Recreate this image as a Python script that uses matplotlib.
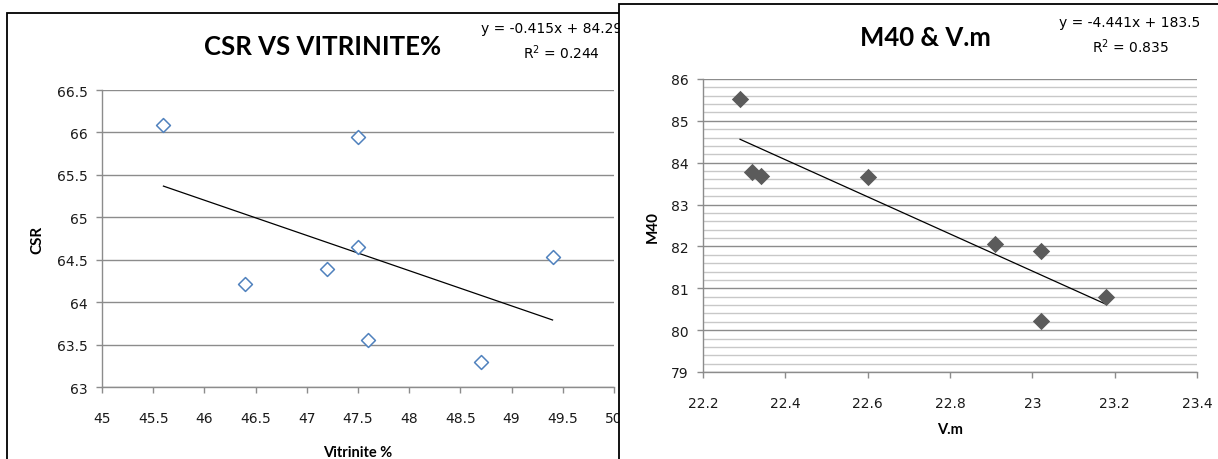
import matplotlib.pyplot as plt
import numpy as np
from matplotlib.patches import Rectangle
from matplotlib.ticker import MultipleLocator

# Data
vit = [45.6, 47.5, 47.5, 47.2, 46.4, 49.4, 47.6, 48.7]
csr = [66.09, 65.95, 64.65, 64.39, 64.21, 64.53, 63.55, 63.30]
csr_eq = "y = -0.415x + 84.29"
csr_r2 = "R$^2$ = 0.244"

vm = [22.29, 22.32, 22.34, 22.60, 22.91, 23.02, 23.02, 23.18]
m40 = [85.53, 83.78, 83.68, 83.65, 82.05, 81.88, 80.21, 80.80]
m40_eq = "y = -4.441x + 183.5"
m40_r2 = "R$^2$ = 0.835"

W, H = 1218, 460
tick_font = "Liberation Sans Narrow"
title_font = "Lato"
grid_c = "#8c8c8c"


def fx(x):
    return x / W


def fy(y):
    return 1 - y / H


def style_axes(ax):
    for s in ["top", "right"]:
        ax.spines[s].set_visible(False)
    for s in ["left", "bottom"]:
        ax.spines[s].set_color(grid_c)
        ax.spines[s].set_linewidth(1.0)
    ax.tick_params(which="major", direction="out", length=4.5, width=1.0,
                   color=grid_c, labelsize=10, labelcolor="#1a1a1a")
    ax.tick_params(axis="x", pad=13)
    ax.tick_params(axis="y", pad=6)
    for lab in ax.get_xticklabels() + ax.get_yticklabels():
        lab.set_fontfamily(tick_font)
    ax.set_facecolor("none")


fig = plt.figure(figsize=(W / 100, H / 100), dpi=100)

# - Left chart frame
fig.patches.append(Rectangle((fx(7), -0.1), fx(800), fy(14) + 0.1,
                             transform=fig.transFigure, facecolor="white",
                             edgecolor="black", lw=1.3, zorder=0))

ax1 = fig.add_axes([fx(102), fy(388), fx(512), (388 - 91) / H], zorder=1)
ax1.set_xlim(45, 50)
ax1.set_ylim(63, 66.5)
ax1.set_xticks(np.arange(45, 50.01, 0.5))
ax1.set_xticklabels([f"{v:g}" for v in np.arange(45, 50.01, 0.5)])
ax1.set_yticks(np.arange(63, 66.51, 0.5))
ax1.set_yticklabels([f"{v:g}" for v in np.arange(63, 66.51, 0.5)])
ax1.grid(axis="y", color=grid_c, lw=1.0)
ax1.set_axisbelow(True)
style_axes(ax1)
ax1.scatter(vit, csr, marker="D", s=50, facecolor="white",
            edgecolor="#4f81bd", lw=1.1, zorder=3, clip_on=False)
p = np.polyfit(vit, csr, 1)
xx = np.array([min(vit), max(vit)])
ax1.plot(xx, np.polyval(p, xx), color="black", lw=0.9, zorder=2)

fig.text(fx(323), fy(47), "CSR VS VITRINITE%", ha="center", va="center",
         fontsize=18.5, fontweight="bold", family=title_font, zorder=1)
fig.text(fx(552), fy(29), csr_eq, ha="center", va="center", fontsize=10,
         family=tick_font, zorder=1)
fig.text(fx(561), fy(53), csr_r2, ha="center", va="center", fontsize=10,
         family=tick_font, zorder=1)
fig.text(fx(37), fy(240), "CSR", ha="center", va="center", rotation=90,
         fontsize=11, fontweight="bold", family=title_font, zorder=1)
fig.text(fx(358), fy(453), "Vitrinite %", ha="center", va="center",
         fontsize=10.5, fontweight="bold", family=title_font, zorder=1)

# - Right chart frame (sits on top of the left one)
fig.patches.append(Rectangle((fx(619), -0.1), fx(800), fy(5) + 0.1,
                             transform=fig.transFigure, facecolor="white",
                             edgecolor="black", lw=1.3, zorder=2))

ax2 = fig.add_axes([fx(703), fy(373), fx(494), (373 - 80) / H], zorder=3)
ax2.set_xlim(22.2, 23.4)
ax2.set_ylim(79, 86)
ax2.set_xticks(np.arange(22.2, 23.41, 0.2))
ax2.set_xticklabels([f"{v:g}" for v in np.round(np.arange(22.2, 23.41, 0.2), 1)])
ax2.set_yticks(np.arange(79, 86.01, 1))
ax2.yaxis.set_minor_locator(MultipleLocator(0.2))
ax2.grid(axis="y", which="major", color=grid_c, lw=1.0)
ax2.grid(axis="y", which="minor", color="#c8c8c8", lw=1.0)
ax2.tick_params(which="minor", length=0)
ax2.set_axisbelow(True)
style_axes(ax2)
ax2.scatter(vm, m40, marker="D", s=78, color="#5b5b5b", lw=0, zorder=3,
            clip_on=False)
p2 = np.polyfit(vm, m40, 1)
xx2 = np.array([min(vm), max(vm)])
ax2.plot(xx2, np.polyval(p2, xx2), color="black", lw=0.9, zorder=2)

fig.text(fx(925), fy(38), "M40 & V.m", ha="center", va="center",
         fontsize=18.5, fontweight="bold", family=title_font, zorder=4)
fig.text(fx(1130), fy(23), m40_eq, ha="center", va="center", fontsize=10,
         family=tick_font, zorder=4)
fig.text(fx(1130), fy(47), m40_r2, ha="center", va="center", fontsize=10,
         family=tick_font, zorder=4)
fig.text(fx(653), fy(227), "M40", ha="center", va="center", rotation=90,
         fontsize=11, fontweight="bold", family=title_font, zorder=4)
fig.text(fx(950), fy(430), "V.m", ha="center", va="center",
         fontsize=10.5, fontweight="bold", family=title_font, zorder=4)

fig.savefig("out.png", dpi=100)
